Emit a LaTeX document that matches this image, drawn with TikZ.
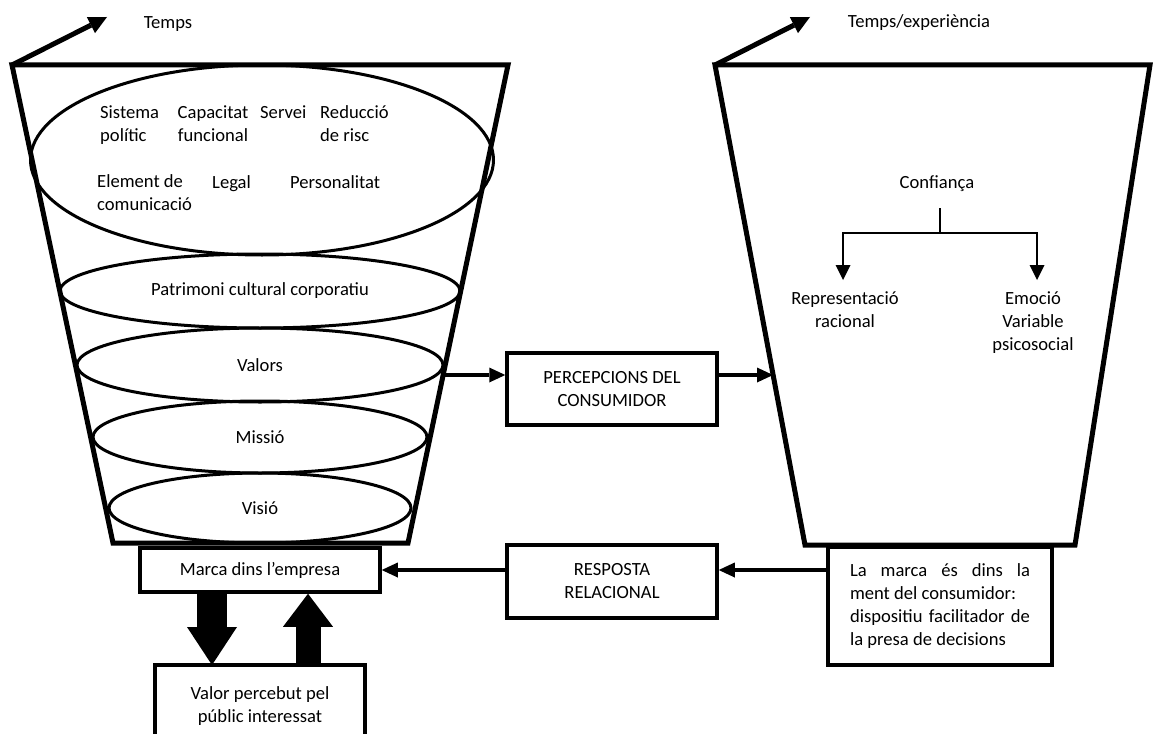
\documentclass[tikz,border=0pt]{standalone}
\usepackage{fontspec}
\setmainfont{Carlito}
\usetikzlibrary{arrows.meta,shapes.geometric}
\newcommand{\diagfont}{\fontsize{18.6}{23}\selectfont}
\begin{document}
\begin{tikzpicture}[x=1pt,y=-1pt,
  txt/.style={font=\diagfont, inner sep=0pt},
  funnel/.style={line width=5pt, line join=miter},
  layer/.style={draw, ellipse, line width=3pt, inner sep=0pt, font=\diagfont},
  box/.style={draw, line width=3.5pt, inner sep=0pt, align=center, font=\diagfont},
  flow/.style={line width=4pt, -{Triangle[length=16pt,width=15pt,line width=0pt]}},
  timearrow/.style={line width=5pt, -{Triangle[length=18pt,width=18pt,line width=0pt]}},
  branch/.style={line width=2pt, -{Triangle[length=15pt,width=15pt,line width=0pt]}},
  blockdown/.style={line width=30pt, -{Triangle[length=38pt,width=50pt,line width=0pt]}},
  blockup/.style={line width=25pt, -{Triangle[length=33pt,width=50pt,line width=0pt]}},
]
\useasboundingbox (0,0) rectangle (1153,733);
\clip (0,0) rectangle (1153,733);

% left funnel: brand inside the company
\coordinate (ltl) at (12,65);
\coordinate (ltr) at (508,65);
\coordinate (lbr) at (408,543);
\coordinate (lbl) at (113,543);
\draw[funnel] (ltl) -- (ltr) -- (lbr) -- (lbl) -- cycle;
\coordinate (lt) at (107,17);
\draw[timearrow] (ltl) -- (lt);
\node[txt, anchor=base] (temps) at (168,29) {Temps};

% right funnel: brand in the consumer's mind
\coordinate (rtl) at (715,65);
\coordinate (rtr) at (1150,65);
\coordinate (rbr) at (1075,545);
\coordinate (rbl) at (805,545);
\draw[funnel] (rtl) -- (rtr) -- (rbr) -- (rbl) -- cycle;
\coordinate (rt) at (810,17);
\draw[timearrow] (rtl) -- (rt);
\node[txt, anchor=base] (tempsexp) at (919,28) {Temps/experiència};

% layers of the left funnel (multi-line labels sit on their last baseline)
\node[layer, minimum width=463, minimum height=190] (identity) at (262,160) {};
\node[txt, anchor=base west, align=left] (sist) at (100,142) {Sistema\\polític};
\node[txt, anchor=base, align=center] (cap) at (213,142) {Capacitat\\funcional};
\node[txt, anchor=base west] (serv) at (260,119) {Servei};
\node[txt, anchor=base west, align=left] (red) at (320,142) {Reducció\\de risc};
\node[txt, anchor=base west, align=left] (elem) at (97,210) {Element de\\comunicació};
\node[txt, anchor=base west] (legal) at (212,188) {Legal};
\node[txt, anchor=base west] (pers) at (290,188) {Personalitat};

\node[layer, minimum width=400, minimum height=74] (patr) at (260,291) {Patrimoni cultural corporatiu};
\node[layer, minimum width=366, minimum height=74] (valors) at (260,365) {Valors};
\node[layer, minimum width=334, minimum height=72] (missio) at (260,437) {Missió};
\node[layer, minimum width=302, minimum height=70] (visio) at (260,508) {Visió};

% boxes
\node[box, minimum width=210, minimum height=72] (perc) at (612,389) {PERCEPCIONS DEL\\CONSUMIDOR};
\node[box, minimum width=210, minimum height=73] (resp) at (612,581.5) {RESPOSTA\\RELACIONAL};
\node[box, minimum width=224, minimum height=118] (lamarca) at (940,606)
  {\makebox[180pt][s]{La marca és dins la}\\
   \makebox[180pt][l]{ment del consumidor:}\\
   \makebox[180pt][s]{dispositiu facilitador de}\\
   \makebox[180pt][l]{la presa de decisions}};
\node[box, minimum width=240, minimum height=44] (marca) at (260,570) {Marca dins l’empresa};
\node[txt, align=center, minimum width=210, minimum height=82, anchor=north] (valor) at (260,665)
  {Valor percebut pel\\públic interessat};
\draw[line width=3.5pt] ([yshift=-30pt]valor.south west) rectangle (valor.north east);

% trust and its two branches
\node[txt, anchor=base] (conf) at (937,188) {Confiança};
\node[txt, anchor=base, align=center] (rep) at (845,327) {Representació\\racional};
\node[txt, anchor=base, align=center] (emo) at (1033,350) {Emoció\\Variable\\psicosocial};
\coordinate (ctop) at (940,208);
\coordinate (split) at (940,233);
\coordinate (ra) at (843,280);
\coordinate (ea) at (1037,280);
\draw[line width=2pt] (ctop) -- (split);
\draw[branch] (split) -| (ra);
\draw[branch] (split) -| (ea);

% flows between the funnels
\coordinate (pin) at (443,375);
\coordinate (pout) at (773,375);
\draw[flow] (pin) -- (pin -| perc.west);
\draw[flow] (pin -| perc.east) -- (pout);
\draw[flow] (lamarca.west |- marca.east) -- (resp.east |- marca.east);
\draw[flow] (resp.west |- marca.east) -- (marca.east);

% exchange between the brand and perceived value
\draw[blockdown] ([xshift=-48pt]marca.south) -- ([xshift=-48pt]valor.north);
\draw[blockup] ([xshift=48pt]valor.north) -- ([xshift=48pt]marca.south);
\end{tikzpicture}
\end{document}
